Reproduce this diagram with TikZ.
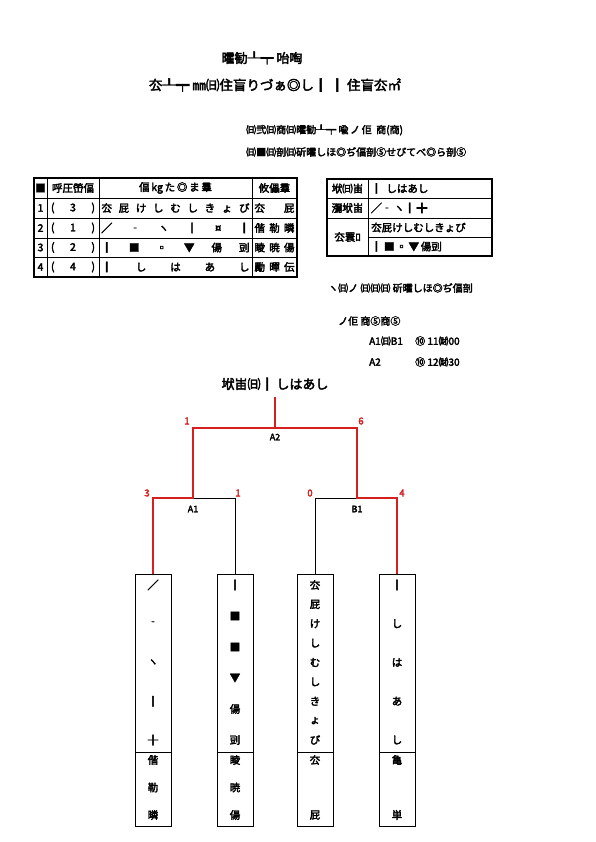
\documentclass[tikz,border=0pt]{standalone}
\usepackage{fontspec}
\setmainfont{Noto Sans CJK JP}[AutoFakeBold=3]
\usetikzlibrary{positioning, calc}
\definecolor{winred}{RGB}{214,32,32}

\begin{document}
\begin{tikzpicture}[
    x=1pt, y=-1pt,
    font=\bfseries\fontsize{10.5}{12}\selectfont,
    cell/.style={inner sep=1pt},
    lcell/.style={inner sep=1pt, anchor=west},
    pbox/.style={rectangle, draw, minimum width=36pt, minimum height=178pt, anchor=north, inner sep=0pt},
    sbox/.style={rectangle, draw, minimum width=36pt, minimum height=74pt, inner sep=0pt},
    win/.style={draw=winred, line width=2.4pt},
    lose/.style={draw=black, line width=0.8pt},
    score/.style={text=winred, font=\bfseries\fontsize{9.5}{10}\selectfont, inner sep=0pt},
    mlabel/.style={font=\bfseries\fontsize{9}{10}\selectfont, inner sep=0pt},
    small/.style={font=\bfseries\fontsize{10}{11}\selectfont}
]
\useasboundingbox (0,0) rectangle (595,842);

% Titles
\node (title) at (262,58) {\fontsize{13}{15}\selectfont 曤勧┸┯ 咍啕};
\node (subtitle) at (275,85) {\fontsize{13.5}{15}\selectfont 厺┸┯ ㎜㈰住盲りづぁ◎し┃\ ┃\ 住盲厺㎡};
\node[lcell, small] (info1) at (245,130) {㈰弐㈰商㈰曤勧┸┯\ 喩\,ノ\,佢\ \ 商(商)};
\node[lcell, small] (info2) at (245,152) {㈰■㈰剖㈰斫曤しほ◎ぢ偪剖⑤せぴてべ◎ら剖⑤};

% Entry table
\draw[line width=1.2pt] (34,178) rectangle (297,277);
\foreach \yy in {198,218,238,257} \draw[line width=0.8pt] (34,\yy) -- (297,\yy);
\foreach \xx in {47,99,252} \draw[line width=0.8pt] (\xx,178) -- (\xx,277);
\node[cell] (h1) at (40.5,188) {■};
\node[cell] (h2) at (73,188) {呼圧嵤偪};
\node[cell] (h3) at (175.5,188) {偪\,kg\,た\,◎\,ま\,羣};
\node[cell] (h4) at (274.5,188) {攸儡羣};
\foreach \n/\s/\yy in {1/3/208, 2/1/228, 3/2/247.5, 4/4/267} {
  \node[cell] at (40.5,\yy) {\n};
  \node[cell, text width=44pt] at (73,\yy) {(\hfill\s\hfill)};
}
\node[cell, text width=148pt] (r1) at (175.5,208) {厺\hfill 屁\hfill け\hfill し\hfill む\hfill し\hfill き\hfill ょ\hfill び};
\node[cell, text width=148pt] (r2) at (175.5,228) {╱\hfill ‐\hfill ヽ\hfill ┃\hfill ¤\hfill ┃};
\node[cell, text width=148pt] (r3) at (175.5,247.5) {┃\hfill ■\hfill ▫\hfill ▼\hfill 偒\hfill 剅};
\node[cell, text width=148pt] (r4) at (175.5,267) {┃\hfill し\hfill は\hfill あ\hfill し};
\node[cell, text width=40pt] (c1) at (274.5,208) {厺\hfill 屁};
\node[cell, text width=40pt] (c2) at (274.5,228) {偕\hfill 勒\hfill 暽};
\node[cell, text width=40pt] (c3) at (274.5,247.5) {睖\hfill 暁\hfill 偒};
\node[cell, text width=40pt] (c4) at (274.5,267) {勵\hfill 暺\hfill 伝};

% Result table
\draw[line width=1.2pt] (327,179) rectangle (492,256);
\draw[line width=0.8pt] (327,198) -- (492,198);
\draw[line width=0.8pt] (327,218) -- (492,218);
\draw[line width=0.8pt] (368,237) -- (492,237);
\draw[line width=0.8pt] (368,179) -- (368,256);
\node[cell] (k1) at (347.5,188.5) {垘㈰峀};
\node[lcell] (v1) at (370,188.5) {┃\ \ しはあし};
\node[cell] (k2) at (347.5,208) {瀰垘峀};
\node[lcell] (v2) at (370,208) {╱‐\,ヽ┃\,╬};
\node[cell] (k3) at (347.5,237) {厺瞏ﾛ};
\node[lcell] (v3) at (370,227.5) {厺屁けしむしきょび};
\node[lcell] (v4) at (370,246.5) {┃\ ■\,▫\,▼\,偒剅};

% Notes
\node[lcell, small] (note1) at (327,288) {ヽ㈰ノ\ ㈰㈰㈰\ 斫曤しほ◎ぢ偪剖};
\node[lcell, small] (note2) at (337,321) {ノ佢\ 商⑤商⑤};
\node[lcell, small] (t1) at (368,341) {A1㈰B1};
\node[lcell, small] (t1h) at (414,341) {⑩\ 11㈶00};
\node[lcell, small] (t2) at (368,362) {A2};
\node[lcell, small] (t2h) at (414,362) {⑩\ 12㈶30};

% Bracket
\node (btitle) at (275,384) {\fontsize{13}{15}\selectfont 垘峀㈰┃\ しはあし};
\coordinate (champ) at (275,397);
\coordinate (a2) at (275,428);
\coordinate (a1) at (193,498);
\coordinate (b1) at (357,498);

\foreach \n/\xx in {1/153, 2/235, 3/315, 4/397} {
  \node[pbox] (p\n) at (\xx,574) {};
  \node[sbox, below=0pt of p\n] (s\n) {};
}

\draw[lose] (p2.north) |- (a1);
\draw[lose] (p3.north) |- (b1);
\draw[lose] (a1 |- a2) -- (a2);
\draw[win] (p1.north) |- (a1) -- (a1 |- a2) -- (a2) -- (champ);
\draw[win] (p4.north) |- (b1) -- (b1 |- a2) -- (a2);

\node[mlabel] at (275,437) {A2};
\node[mlabel] at (193,509) {A1};
\node[mlabel] at (357,509) {B1};
\node[score] at (187,421) {1};
\node[score] at (361,421) {6};
\node[score] at (147,493) {3};
\node[score] at (238,493) {1};
\node[score] at (310,493) {0};
\node[score] at (402,493) {4};

% Names in the boxes
\foreach \c [count=\i] in {╱,‐,ヽ,┃,╂} \node[cell] at (153,{585+(\i-1)*155/4}) {\c};
\foreach \c [count=\i] in {┃,■,■,▼,偒,剅} \node[cell] at (235,{585+(\i-1)*155/5}) {\c};
\foreach \c [count=\i] in {厺,屁,け,し,む,し,き,ょ,び} \node[cell] at (315,{585+(\i-1)*155/8}) {\c};
\foreach \c [count=\i] in {┃,し,は,あ,し} \node[cell] at (397,{585+(\i-1)*155/4}) {\c};
\foreach \c [count=\i] in {偕,勒,暽} \node[cell] at (153,{760+(\i-1)*55/2}) {\c};
\foreach \c [count=\i] in {睖,暁,偒} \node[cell] at (235,{760+(\i-1)*55/2}) {\c};
\foreach \c [count=\i] in {厺,屁} \node[cell] at (315,{760+(\i-1)*55}) {\c};
\foreach \c [count=\i] in {亀,単} \node[cell] at (397,{760+(\i-1)*55}) {\c};

\end{tikzpicture}
\end{document}
